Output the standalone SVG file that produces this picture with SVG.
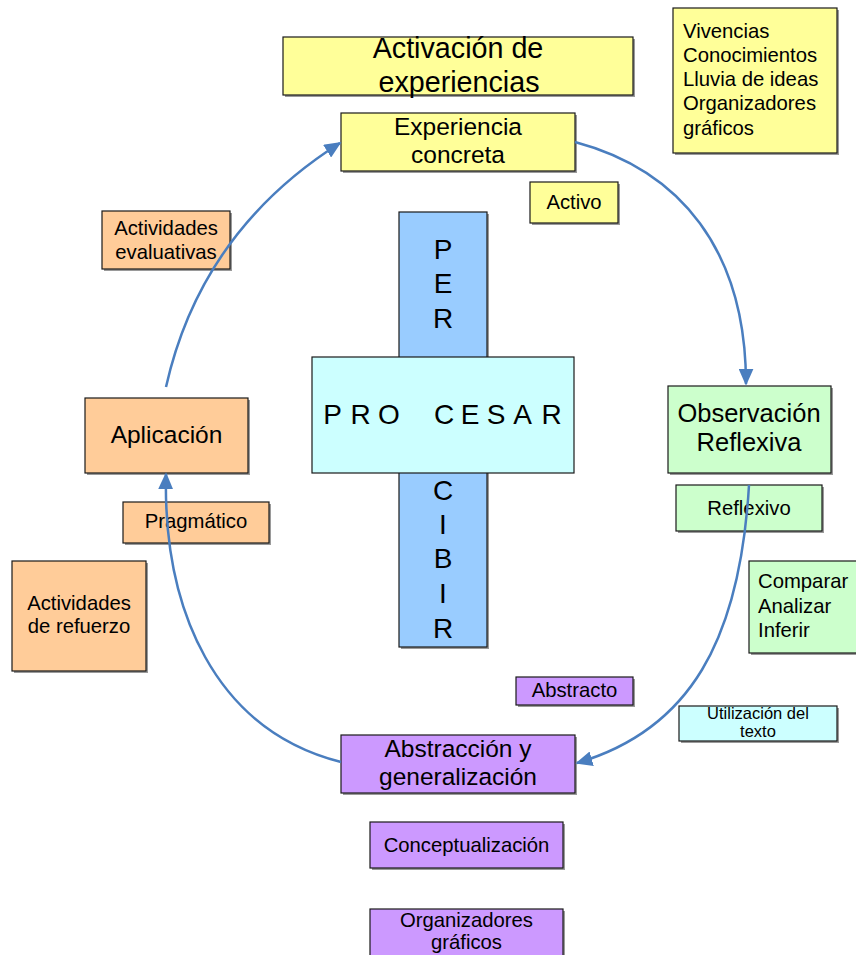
<svg xmlns="http://www.w3.org/2000/svg" width="856" height="955" viewBox="0 0 856 955">
<defs>
<style>
text{font-family:"Liberation Sans",Arial,sans-serif;fill:#000;}
.c{text-anchor:middle;}
.s{font-size:20.3px;}
.m{font-size:24.5px;}
.box{stroke:#1a1a1a;stroke-width:1.2;}
.sh{fill:#9a9a9a;}
.y{fill:#ffff99;}.o{fill:#ffcc99;}.g{fill:#ccffcc;}.p{fill:#cc99ff;}.cy{fill:#ccffff;}.b{fill:#99ccff;}
.arr{fill:none;stroke:#4a7ebf;stroke-width:2.5;marker-end:url(#ah);}
</style>
<marker id="ah" viewBox="0 0 10 10" refX="9" refY="5" markerWidth="17" markerHeight="15" markerUnits="userSpaceOnUse" orient="auto" preserveAspectRatio="none"><path d="M0,0 L10,5 L0,10 z" fill="#4a7ebf"/></marker>
</defs>

<g id="per-cibir">
<rect class="sh" x="401" y="214" width="88" height="435"/>
<rect class="box b" x="399" y="212" width="88" height="435"/>
<g font-size="28">
<text class="c" x="443" y="259">P</text>
<text class="c" x="443" y="293">E</text>
<text class="c" x="443" y="328">R</text>
<text class="c" x="443" y="500">C</text>
<text class="c" x="443" y="534">I</text>
<text class="c" x="443" y="568">B</text>
<text class="c" x="443" y="603">I</text>
<text class="c" x="443" y="638">R</text>
</g>
</g>

<g id="procesar">
<rect class="box cy" x="312" y="357" width="262" height="116"/>
<text class="c" y="424" font-size="28" x="332.5 360.5 389 444 470 496 522.5 551.5">PROCESAR</text>
</g>

<g id="activacion">
<rect class="sh" x="285" y="39" width="350" height="58"/>
<rect class="box y" x="283" y="37" width="350" height="58"/>
<text class="c" x="458" y="57.5" font-size="28.7">Activación de</text>
<text class="c" x="459" y="92" font-size="28.7">experiencias</text>
</g>

<g id="vivencias">
<rect class="sh" x="675" y="10" width="164" height="145"/>
<rect class="box y" x="673" y="8" width="164" height="145"/>
<g class="s">
<text x="683" y="37.5">Vivencias</text>
<text x="683" y="61.8">Conocimientos</text>
<text x="683" y="86">Lluvia de ideas</text>
<text x="683" y="110.3">Organizadores</text>
<text x="683" y="134.5">gráficos</text>
</g>
</g>

<g id="experiencia">
<rect class="sh" x="343" y="115" width="234" height="58"/>
<rect class="box y" x="341" y="113" width="234" height="58"/>
<text class="c m" x="458" y="135">Experiencia</text>
<text class="c m" x="458" y="163">concreta</text>
</g>

<g id="activo">
<rect class="sh" x="532" y="184" width="88" height="41"/>
<rect class="box y" x="530" y="182" width="88" height="41"/>
<text class="c s" x="574" y="209">Activo</text>
</g>

<g id="evaluativas">
<rect class="sh" x="104" y="213" width="128" height="58"/>
<rect class="box o" x="102" y="211" width="128" height="58"/>
<text class="c s" x="166" y="235">Actividades</text>
<text class="c s" x="166" y="259.3">evaluativas</text>
</g>

<g id="aplicacion">
<rect class="sh" x="87" y="400" width="163" height="75"/>
<rect class="box o" x="85" y="398" width="163" height="75"/>
<text class="c m" x="166.5" y="443.3">Aplicación</text>
</g>

<g id="pragmatico">
<rect class="sh" x="125" y="504" width="146" height="41"/>
<rect class="box o" x="123" y="502" width="146" height="41"/>
<text class="c s" x="196" y="528.3">Pragmático</text>
</g>

<g id="refuerzo">
<rect class="sh" x="14" y="563" width="134" height="110"/>
<rect class="box o" x="12" y="561" width="134" height="110"/>
<text class="c s" x="79" y="610">Actividades</text>
<text class="c s" x="79" y="633.3">de refuerzo</text>
</g>

<g id="observacion">
<rect class="sh" x="670" y="388" width="163" height="87"/>
<rect class="box g" x="668" y="386" width="163" height="87"/>
<text class="c" x="749" y="422.3" font-size="25.5">Observación</text>
<text class="c" x="749" y="450.5" font-size="25.5">Reflexiva</text>
</g>

<g id="reflexivo">
<rect class="sh" x="678" y="487" width="146" height="46"/>
<rect class="box g" x="676" y="485" width="146" height="46"/>
<text class="c s" x="749" y="515">Reflexivo</text>
</g>

<g id="comparar">
<rect class="sh" x="751" y="563" width="110" height="92"/>
<rect class="box g" x="749" y="561" width="110" height="92"/>
<text class="s" x="758" y="588.3">Comparar</text>
<text class="s" x="758" y="612.7">Analizar</text>
<text class="s" x="758" y="637.3">Inferir</text>
</g>

<g id="utilizacion">
<rect class="sh" x="681" y="708" width="158" height="35"/>
<rect class="box cy" x="679" y="706" width="158" height="35"/>
<text class="c" x="758" y="718.5" font-size="16.5">Utilización del</text>
<text class="c" x="758" y="737.3" font-size="16.5">texto</text>
</g>

<g id="abstracto">
<rect class="sh" x="518" y="679" width="117" height="28"/>
<rect class="box p" x="516" y="677" width="117" height="28"/>
<text class="c s" x="574.5" y="697.3">Abstracto</text>
</g>

<g id="abstraccion">
<rect class="sh" x="343" y="737" width="234" height="58"/>
<rect class="box p" x="341" y="735" width="234" height="58"/>
<text class="c m" x="458" y="757.3">Abstracción y</text>
<text class="c m" x="458" y="784.5">generalización</text>
</g>

<g id="conceptualizacion">
<rect class="sh" x="372" y="824" width="193" height="46"/>
<rect class="box p" x="370" y="822" width="193" height="46"/>
<text class="c s" x="466.5" y="851.7">Conceptualización</text>
</g>

<g id="organizadores">
<rect class="sh" x="372" y="911" width="193" height="50"/>
<rect class="box p" x="370" y="909" width="193" height="50"/>
<text class="c s" x="466.5" y="926.7">Organizadores</text>
<text class="c s" x="466.5" y="949">gráficos</text>
</g>

<g id="connectors">
<path class="arr" d="M575,142 C680,170 746,250 746,384"/>
<path class="arr" d="M749,485 C740,640 690,730 577,763"/>
<path class="arr" d="M341,762 C215,730 163,610 166,474"/>
<path class="arr" d="M166,387 C190,280 250,200 340,143"/>
</g>
</svg>
